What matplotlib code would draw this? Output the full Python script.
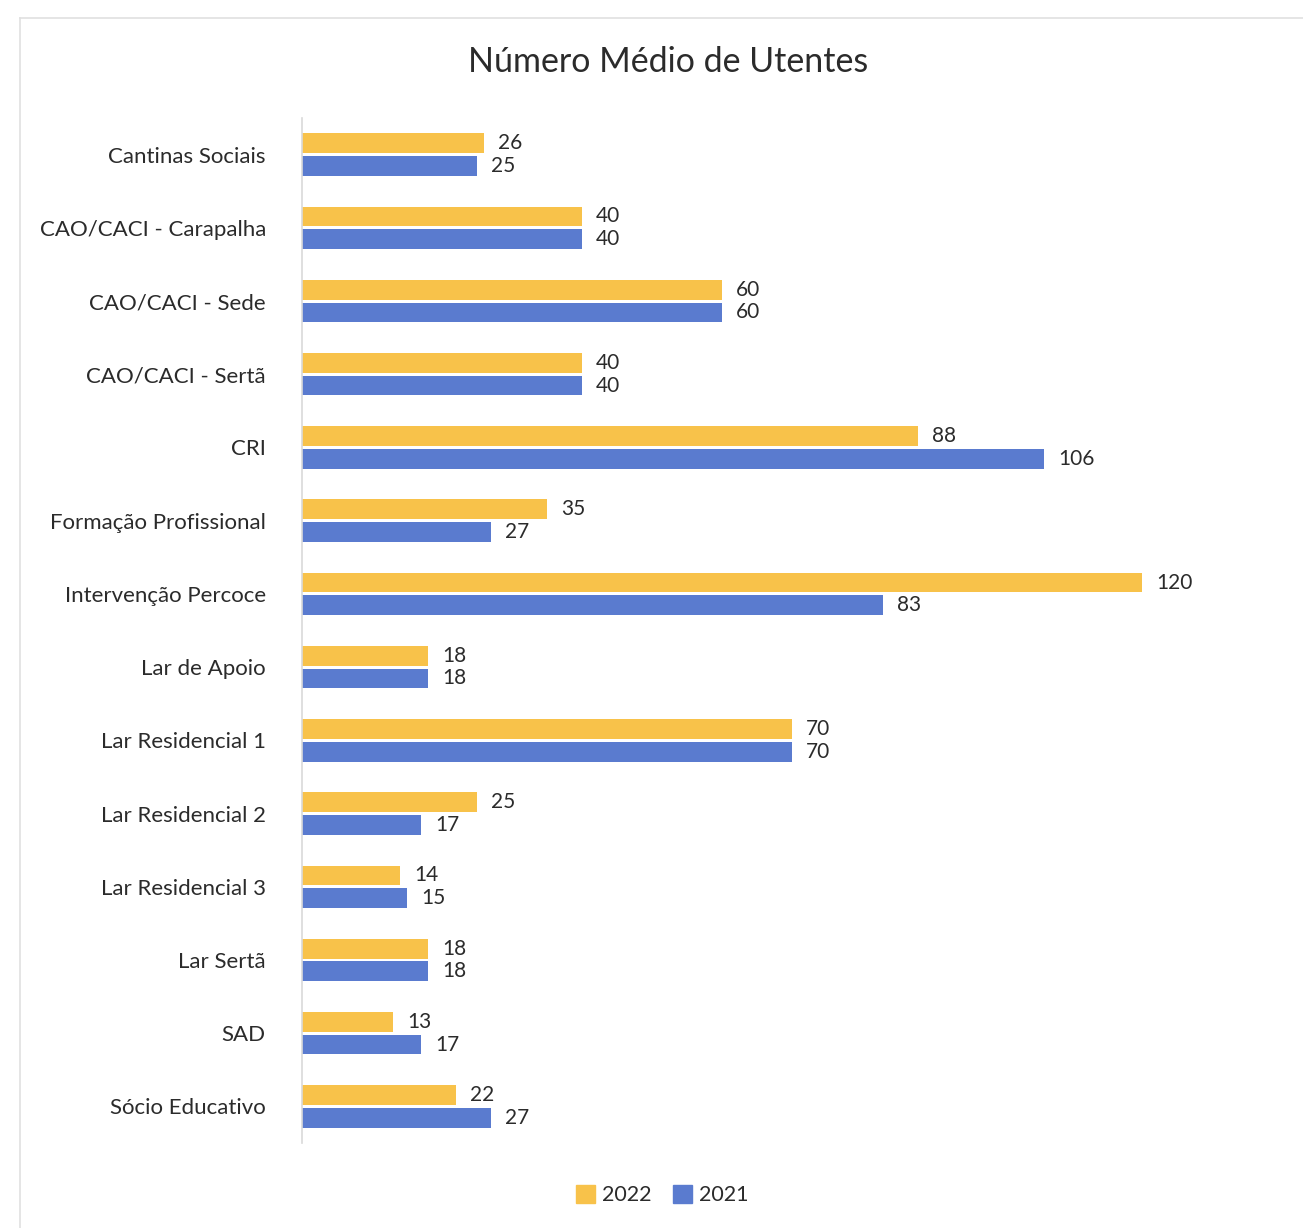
import matplotlib
matplotlib.use("Agg")
import matplotlib.pyplot as plt
from matplotlib.lines import Line2D
from matplotlib.patches import Patch
import numpy as np

categories = ["Cantinas Sociais", "CAO/CACI - Carapalha", "CAO/CACI - Sede", "CAO/CACI - Sertã",
              "CRI", "Formação Profissional", "Intervenção Percoce", "Lar de Apoio",
              "Lar Residencial 1", "Lar Residencial 2", "Lar Residencial 3", "Lar Sertã",
              "SAD", "Sócio Educativo"]
values_2022 = [26, 40, 60, 40, 88, 35, 120, 18, 70, 25, 14, 18, 13, 22]
values_2021 = [25, 40, 60, 40, 106, 27, 83, 18, 70, 17, 15, 18, 17, 27]
series_labels = ["2022", "2021"]

gold = "#F8C24A"
blue = "#5A7BCF"
text_color = "#2b2b2b"

plt.rcParams['font.family'] = ['Lato', 'DejaVu Sans']

W, H = 1303, 1228
fig = plt.figure(figsize=(W / 100, H / 100), dpi=100)
ax = fig.add_axes([302 / W, 1 - 1143 / H, (1282 - 302) / W, (1143 - 118) / H])

n = len(categories)
y = np.arange(n)
bh = 0.27
ax.barh(y - bh / 2 - 0.02, values_2022, height=bh, color=gold, label=series_labels[0])
ax.barh(y + bh / 2 + 0.02, values_2021, height=bh, color=blue, label=series_labels[1])

for i in range(n):
    ax.text(values_2022[i] + 2.0, y[i] - bh / 2 - 0.02, str(values_2022[i]), va="center", ha="left",
            fontsize=15, color=text_color)
    ax.text(values_2021[i] + 2.0, y[i] + bh / 2 + 0.02, str(values_2021[i]), va="center", ha="left",
            fontsize=15, color=text_color)

ax.set_ylim(n - 0.5, -0.5)
ax.set_xlim(0, 140)
ax.set_yticks(y)
ax.set_yticklabels(categories, fontsize=16, color=text_color)
ax.tick_params(axis="y", length=0, pad=26)
ax.set_xticks([])
for s in ["top", "right", "bottom"]:
    ax.spines[s].set_visible(False)
ax.spines["left"].set_color("#d9d9d9")
ax.spines["left"].set_linewidth(1.2)

fig.text(668 / W, 1 - 62 / H, "Número Médio de Utentes", ha="center", va="center",
         fontsize=24.5, color=text_color)

handles = [Patch(color=gold), Patch(color=blue)]
fig.legend(handles, series_labels, loc="center", bbox_to_anchor=(662 / W, 1 - 1195 / H),
           ncol=2, frameon=False, fontsize=15.5, handlelength=0.9, handleheight=0.9,
           handletextpad=0.3, columnspacing=1.0, labelcolor=text_color)

# chart frame
fig.add_artist(Line2D([20 / W, 20 / W], [0, 1 - 18 / H], transform=fig.transFigure,
                      color="#e0e0e0", lw=1.2))
fig.add_artist(Line2D([20 / W, 1], [1 - 18 / H, 1 - 18 / H], transform=fig.transFigure,
                      color="#e0e0e0", lw=1.2))

fig.savefig("out.png", dpi=100, facecolor="white")
